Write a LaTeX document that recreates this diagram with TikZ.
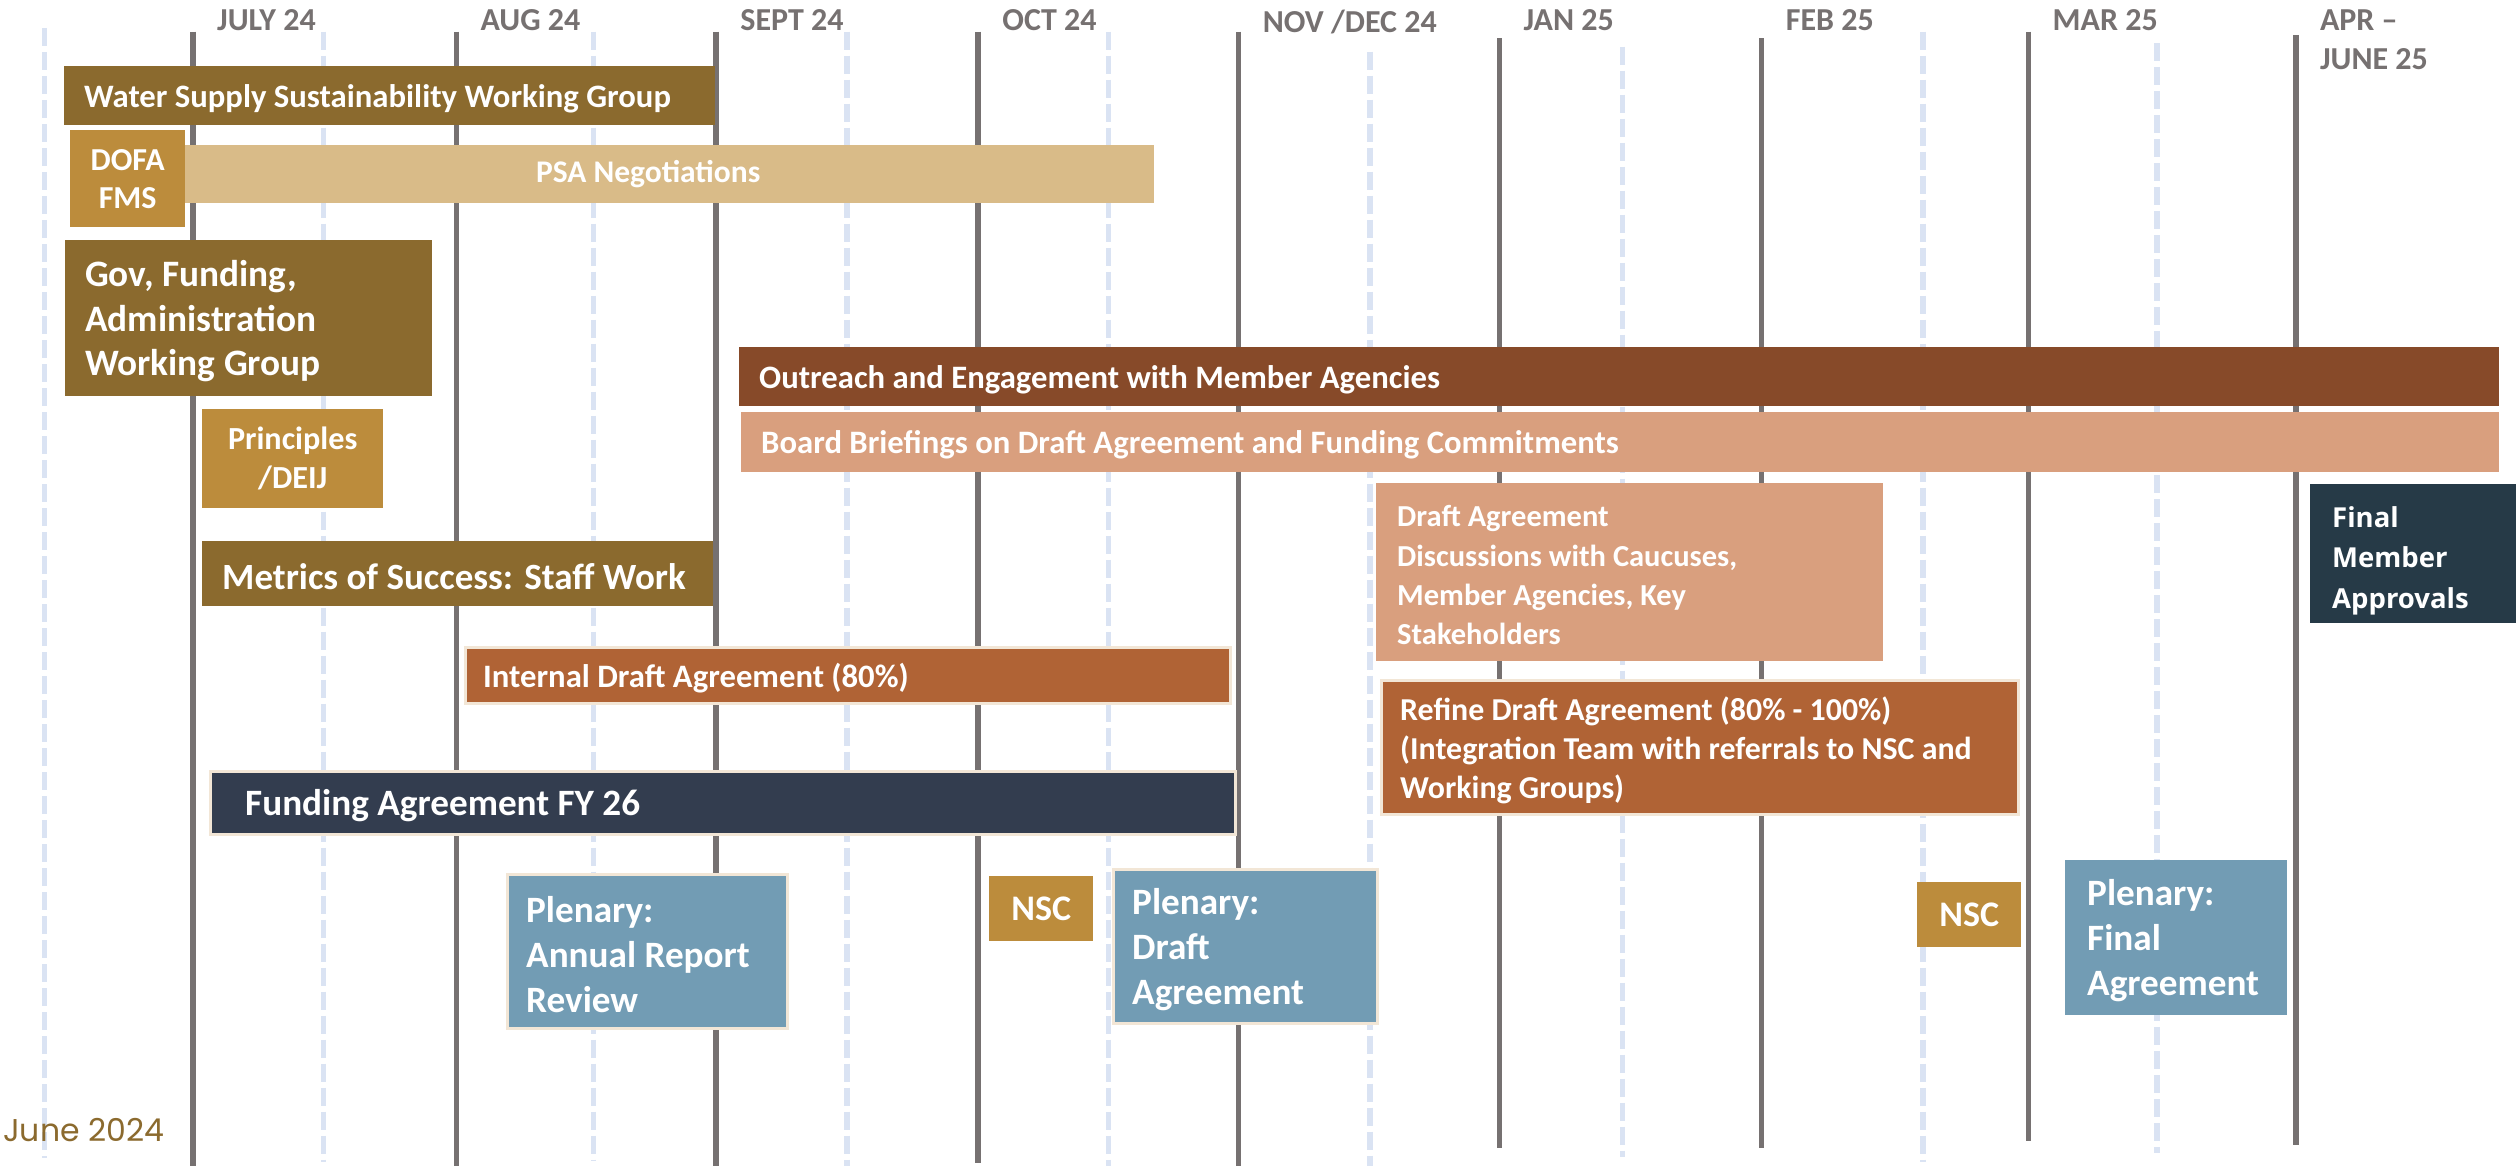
\documentclass[tikz,border=0pt]{standalone}
\usepackage{fontspec}
\setmainfont{Carlito}
\newfontfamily\apprfont{Open Sans}
\newfontfamily\datefont{Poppins}
\usetikzlibrary{positioning}
\newcommand{\sz}[2]{\fontsize{#1}{#2}\selectfont}
\definecolor{darkgold}{HTML}{8B6A2E}
\definecolor{gold}{HTML}{BC8C3C}
\definecolor{psatan}{HTML}{D9BB88}
\definecolor{rust}{HTML}{874A29}
\definecolor{salmon}{HTML}{D99F7E}
\definecolor{copper}{HTML}{B06335}
\definecolor{navy}{HTML}{333D4F}
\definecolor{steel}{HTML}{729CB4}
\definecolor{slate}{HTML}{263A47}
\definecolor{grid}{HTML}{767171}
\definecolor{halfgrid}{HTML}{DAE3F3}
\definecolor{cream}{HTML}{F2E6D6}
\begin{document}
\begin{tikzpicture}
[x=1pt, y=-1pt,
 month/.style={draw=grid, line width=5.5pt},
 half/.style={draw=halfgrid, line width=5.5pt, dash pattern=on 18pt off 6pt},
 monthlbl/.style={anchor=north west, inner sep=0pt, text=grid, align=left,
   font=\bfseries\sz{32}{39}},
 bar/.style 2 args={anchor=north west, inner sep=0pt, minimum width=#1,
   minimum height=#2, text=white, align=center, font=\bfseries\sz{32.7}{38}},
 edged/.style={draw=cream, line width=2.5pt},
 txt/.style={inner sep=0pt, text=white, align=left, yshift=-3pt,
   font=\bfseries\sz{32.7}{39}}]
\useasboundingbox (0,0) rectangle (2516,1166);
% half-month guides
\foreach \x/\t/\b in {44.5/28/1158, 323.6/31.7/1162, 593.6/31.7/1160,
  847/31.7/1166, 1108.4/31.7/1166, 1369.8/51.7/1166, 1622.7/46.7/1157,
  1923/31.7/1162, 2157/43.3/1153}
  \draw[half] (\x,\t) -- (\x,\b);
% months
\foreach \x/\t/\b/\m [count=\i] in {193/31.7/1166/{JULY 24},
  456.4/31.7/1166/{AUG 24}, 716.2/31.7/1166/{SEPT 24},
  978.2/31.7/1163/{OCT 24}, 1238.6/31.7/1166/{NOV /DEC 24},
  1499.5/38.3/1148/{JAN 25}, 1761.7/38.3/1148/{FEB 25},
  2028.5/31.7/1141/{MAR 25}, 2295.8/35/1145/{APR –\\JUNE 25}}
{
  \draw[month] (\x,\t) -- (\x,\b);
  \node[monthlbl] (mon\i) at (\x+24,9.5) {\m};
}
% working groups
\node[bar={651}{59}, fill=darkgold] (wssw) at (64,66) {};
\node[right=20pt of wssw.west, txt] (wssw txt)
  {Water Supply Sustainability Working Group};
\node[bar={1012}{58}, fill=psatan, font=\bfseries\sz{31.5}{36}] (psa)
  at (142,145) {PSA Negotiations};
\node[bar={115}{97}, fill=gold, font=\bfseries\sz{32}{38}] (dofa)
  at (70,130) {DOFA\\FMS};
\node[bar={367}{156}, fill=darkgold] (gov) at (65,240) {};
\node[right=20pt of gov.west, txt, font=\bfseries\sz{37.3}{44.5}] (gov txt)
  {Gov, Funding,\\Administration\\Working Group};
\node[bar={181}{99}, fill=gold, font=\bfseries\sz{32.2}{38.7}] (princ)
  at (202,409) {Principles\\/DEIJ};
\node[bar={511}{65}, fill=darkgold] (metrics) at (202,541) {};
\node[right=20pt of metrics.west, txt, font=\bfseries\sz{37}{44}]
  (metrics txt) {Metrics of Success: Staff Work};
% outreach and drafting
\node[bar={1760}{59}, fill=rust] (outreach) at (739,347) {};
\node[right=20pt of outreach.west, txt] (outreach txt)
  {Outreach and Engagement with Member Agencies};
\node[bar={1758}{60}, fill=salmon] (board) at (741,412) {};
\node[right=20pt of board.west, txt] (board txt)
  {Board Briefings on Draft Agreement and Funding Commitments};
\node[bar={765}{56}, fill=copper, edged] (internal) at (464,646) {};
\node[right=19pt of internal.west, txt] (internal txt)
  {Internal Draft Agreement (80\%)};
\node[bar={1025}{63}, fill=navy, edged] (funding) at (209,770) {};
\node[right=36pt of funding.west, txt, font=\bfseries\sz{37.2}{40}]
  (funding txt) {Funding Agreement FY 26};
\node[bar={507}{178}, fill=salmon] (discuss) at (1376,483) {};
\node[right=21pt of discuss.west, txt, font=\bfseries\sz{30.5}{39.3}]
  (discuss txt) {Draft Agreement\\Discussions with Caucuses,\\Member Agencies, Key\\Stakeholders};
\node[bar={637}{134}, fill=copper, edged] (refine) at (1380,679) {};
\node[right=20pt of refine.west, txt, font=\bfseries\sz{31.9}{39.3}]
  (refine txt) {Refine Draft Agreement (80\% - 100\%)\\(Integration Team with referrals to NSC and\\Working Groups)};
\node[bar={206}{139}, fill=slate] (approve) at (2310,484) {};
\node[right=22pt of approve.west, txt, yshift=-4pt,
  font=\apprfont\bfseries\sz{27.5}{40.7}]
  (approve txt) {Final\\Member\\Approvals};
% plenaries and NSC
\node[bar={280}{154}, fill=steel, edged] (plenrev) at (506,873) {};
\node[right=20pt of plenrev.west, txt, font=\bfseries\sz{37.2}{45}]
  (plenrev txt) {Plenary:\\Annual Report\\Review};
\node[bar={104}{65}, fill=gold, font=\bfseries\sz{36}{40}] (nsc1)
  at (989,876) {NSC};
\node[bar={264}{154}, fill=steel, edged] (plendraft) at (1112,868) {};
\node[right=20pt of plendraft.west, txt, font=\bfseries\sz{37.2}{45}]
  (plendraft txt) {Plenary:\\Draft\\Agreement};
\node[bar={104}{65}, fill=gold, font=\bfseries\sz{36}{40}] (nsc2)
  at (1917,882) {NSC};
\node[bar={222}{155}, fill=steel] (plenfinal) at (2065,860) {};
\node[right=22pt of plenfinal.west, txt, font=\bfseries\sz{37.2}{45}]
  (plenfinal txt) {Plenary:\\Final\\Agreement};
\node[anchor=base west, inner sep=0pt, text=darkgold,
  font=\datefont\sz{31.5}{36}] (start) at (3,1141.7) {June 2024};
\end{tikzpicture}
\end{document}
